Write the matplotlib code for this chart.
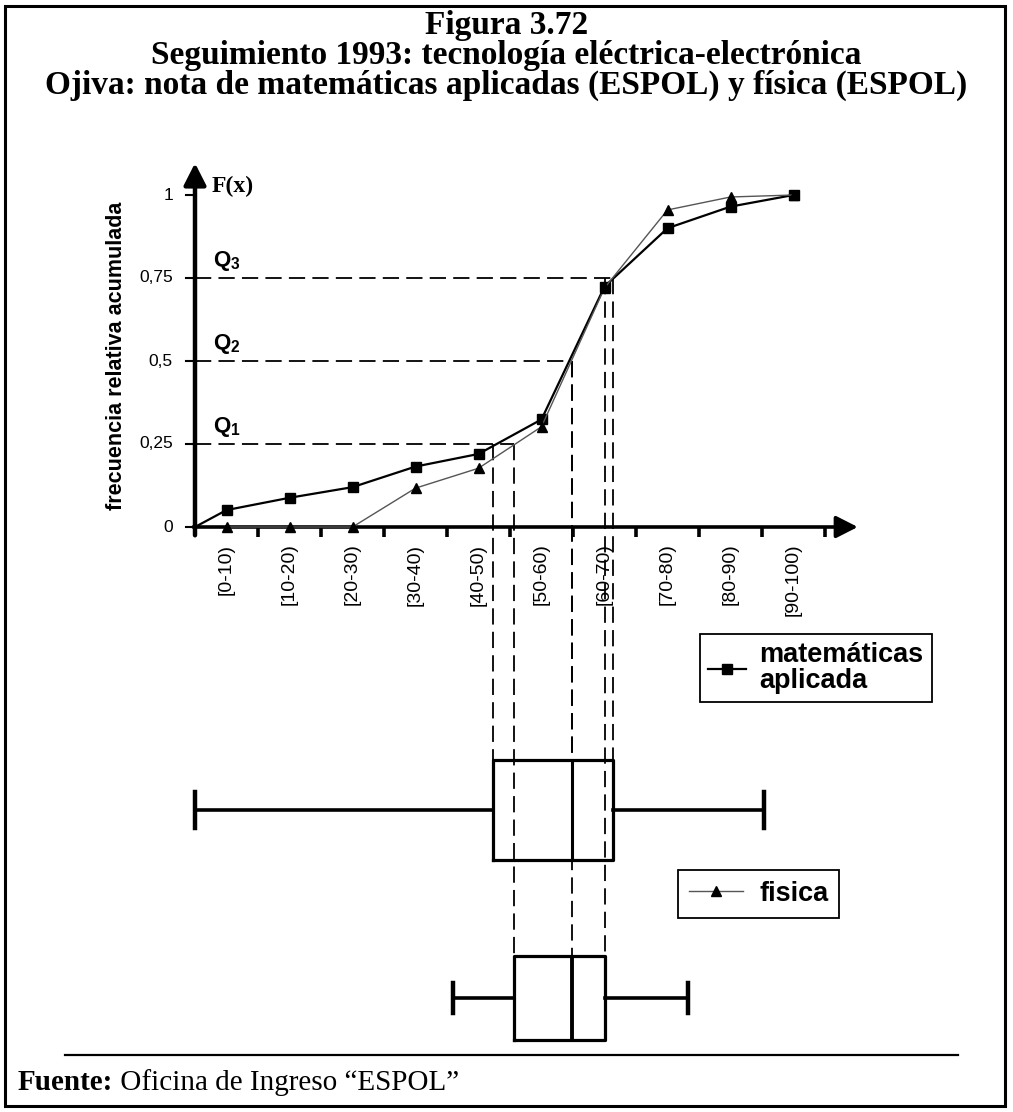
import numpy as np
import matplotlib.pyplot as plt
from matplotlib import font_manager
from matplotlib.lines import Line2D
from matplotlib.patches import Rectangle

plt.rcParams["mathtext.fontset"] = "custom"
plt.rcParams["mathtext.rm"] = "Liberation Sans"
plt.rcParams["mathtext.bf"] = "Liberation Sans:bold"

# ── datos ────────────────────────────────────────────────────────────────────
intervalos = ["[0-10)", "[10-20)", "[20-30)", "[30-40)", "[40-50)",
              "[50-60)", "[60-70)", "[70-80)", "[80-90)", "[90-100)"]
limites = np.arange(0, 101, 10)
marcas = limites[:-1] + 5

# frecuencia relativa acumulada por intervalo
F_mat = [0.051, 0.088, 0.12, 0.182, 0.22, 0.324, 0.724, 0.90, 0.965, 1.0]
F_fis = [0.0, 0.0, 0.0, 0.117, 0.177, 0.302, 0.72, 0.955, 0.994, 1.0]

# min, Q1, Q2, Q3, max
resumen_mat = [0.0, 47.3, 59.8, 66.3, 90.3]
resumen_fis = [41.0, 50.6, 59.8, 65.1, 78.3]

niveles_q = [0.25, 0.5, 0.75]
valores_y = [0, 0.25, 0.5, 0.75, 1]
etiquetas_y = ["0", "0,25", "0,5", "0,75", "1"]

# ── lienzo ───────────────────────────────────────────────────────────────────
W, H = 1013, 1112
fig = plt.figure(figsize=(W / 100, H / 100), dpi=100)

# nota 0 en x=195 px (6.3 px por punto), F=0 en y=527 px (332 px por unidad)
X0, SX = 195, 6.3
Y0, SY = 527, 332
L, R, T, B = 100, 1000, 140, 1060
ax = fig.add_axes([L / W, 1 - B / H, (R - L) / W, (B - T) / H])
ax.set_xlim((L - X0) / SX, (R - X0) / SX)
ax.set_ylim((Y0 - B) / SY, (Y0 - T) / SY)
ax.axis("off")

# ejes con flecha
flecha = dict(arrowstyle="-|>,head_length=0.55,head_width=0.28", lw=3.2,
              color="black", mutation_scale=24, shrinkA=0, shrinkB=0)
ax.annotate("", xy=(0, 1.096), xytext=(0, -0.025), arrowprops=flecha)
flecha_x = dict(flecha, lw=2.6)
ax.annotate("", xy=(105.2, 0), xytext=(-0.3, 0), arrowprops=flecha_x)

for v, txt in zip(valores_y, etiquetas_y):
    ax.plot([-1.5, 0], [v, v], color="black", lw=1.5)
    ax.text(-3.5, v, txt, ha="right", va="center", fontsize=12.5,
            family="Liberation Sans")
for g in limites[1:]:
    ax.plot([g, g], [0, -0.03], color="black", lw=2.6,
            solid_capstyle="butt")
for g, txt in zip(marcas, intervalos):
    ax.text(g, -0.05, txt, rotation=90, ha="center", va="top",
            fontsize=14, family="Liberation Sans")

ax.text(2.7, 1.027, "F(x)", family="Liberation Serif", weight="bold",
        fontsize=17, va="center")

nombres = {f.name for f in font_manager.fontManager.ttflist}
if "Liberation Sans Narrow" in nombres:
    fam_y, tam_y = "Liberation Sans Narrow", 19
else:
    fam_y, tam_y = "Liberation Sans", 15.5
ax.text(-12.4, 0.515, "frecuencia relativa acumulada", rotation=90,
        ha="center", va="center", family=fam_y, weight="bold",
        fontsize=tam_y)

# ── ojivas ───────────────────────────────────────────────────────────────────
l_mat, = ax.plot(np.r_[0, marcas], np.r_[0, F_mat], color="black", lw=1.6,
                 marker="s", ms=7, markevery=slice(1, None), zorder=4)
l_fis, = ax.plot(marcas, F_fis, color="#555555", lw=1.0, marker="^", ms=7,
                 mfc="black", mec="black", zorder=4)

# ── cuartiles ────────────────────────────────────────────────────────────────
pos_mat, alto_mat = (Y0 - 810) / SY, 100 / SY
pos_fis, alto_fis = (Y0 - 998) / SY, 84 / SY
guion = dict(color="black", lw=1.3, linestyle=(0, (9, 4)), zorder=2)

for i, nivel in enumerate(niveles_q):
    fin = max(resumen_mat[i + 1], resumen_fis[i + 1])
    ax.plot([0, fin], [nivel, nivel], **guion)
    ax.plot([resumen_mat[i + 1]] * 2, [nivel, pos_mat + alto_mat / 2], **guion)
    ax.plot([resumen_fis[i + 1]] * 2, [nivel, pos_fis + alto_fis / 2], **guion)
    ax.text(2.8, nivel + 0.05, r"$\mathbf{Q}_{\mathbf{%d}}$" % (i + 1),
            fontsize=16, va="center", ha="left")

# ── diagramas de caja ────────────────────────────────────────────────────────
def caja(resumen, pos, alto, ancho_tope, lw_med):
    stats = [dict(whislo=resumen[0], q1=resumen[1], med=resumen[2],
                  q3=resumen[3], whishi=resumen[4], fliers=[])]
    ax.bxp(stats, positions=[pos], widths=[alto], orientation="horizontal",
           showfliers=False, manage_ticks=False, capwidths=[ancho_tope],
           boxprops=dict(color="black", lw=2.3),
           whiskerprops=dict(color="black", lw=2.6),
           capprops=dict(color="black", lw=3.2),
           medianprops=dict(color="black", lw=lw_med))

caja(resumen_mat, pos_mat, alto_mat, 36 / SY, 2.2)
caja(resumen_fis, pos_fis, alto_fis, 30 / SY, 2.8)

# ── leyendas ─────────────────────────────────────────────────────────────────
prop = dict(family="Liberation Sans", weight="bold", size=19.5)
leg1 = ax.legend([l_mat], ["matemáticas\naplicada"], loc="upper left",
                 bbox_to_anchor=(700 / W, 1 - 634 / H),
                 bbox_transform=fig.transFigure, prop=prop, frameon=True,
                 fancybox=False, edgecolor="black", framealpha=1,
                 borderpad=0.3, handlelength=1.4, handletextpad=0.5,
                 borderaxespad=0)
leg1.get_frame().set_linewidth(1.3)
for t in leg1.get_texts():
    t.set_linespacing(1.0)
ax.add_artist(leg1)

leg2 = ax.legend([l_fis], ["fisica"], loc="upper left",
                 bbox_to_anchor=(678 / W, 1 - 870 / H),
                 bbox_transform=fig.transFigure, prop=prop, frameon=True,
                 fancybox=False, edgecolor="black", framealpha=1,
                 borderpad=0.4, handlelength=2.0, handletextpad=0.6,
                 borderaxespad=0)
leg2.get_frame().set_linewidth(1.3)

# ── títulos y fuente ─────────────────────────────────────────────────────────
titulos = ["Figura 3.72",
           "Seguimiento 1993: tecnología eléctrica-electrónica",
           "Ojiva: nota de matemáticas aplicadas (ESPOL) y física (ESPOL)"]
for txt, y in zip(titulos, [34, 64, 94]):
    fig.text(0.5, 1 - y / H, txt, ha="center", va="baseline",
             family="Liberation Serif", weight="bold", fontsize=24)

fig.add_artist(Line2D([65 / W, 958 / W], [1 - 1055 / H] * 2, lw=1.6,
                      color="black"))
t1 = fig.text(18 / W, 1 - 1083 / H, "Fuente:", family="Liberation Serif",
              weight="bold", fontsize=21, va="center")
ax.annotate(" Oficina de Ingreso “ESPOL”", xy=(1, 0), xycoords=t1,
            va="bottom", ha="left", family="Liberation Serif", fontsize=21)

fig.add_artist(Rectangle((5 / W, 1 - 1106 / H), 1000 / W, 1100 / H,
                         transform=fig.transFigure, fill=False, lw=2.2,
                         ec="black"))

fig.savefig("out.png", dpi=100)
